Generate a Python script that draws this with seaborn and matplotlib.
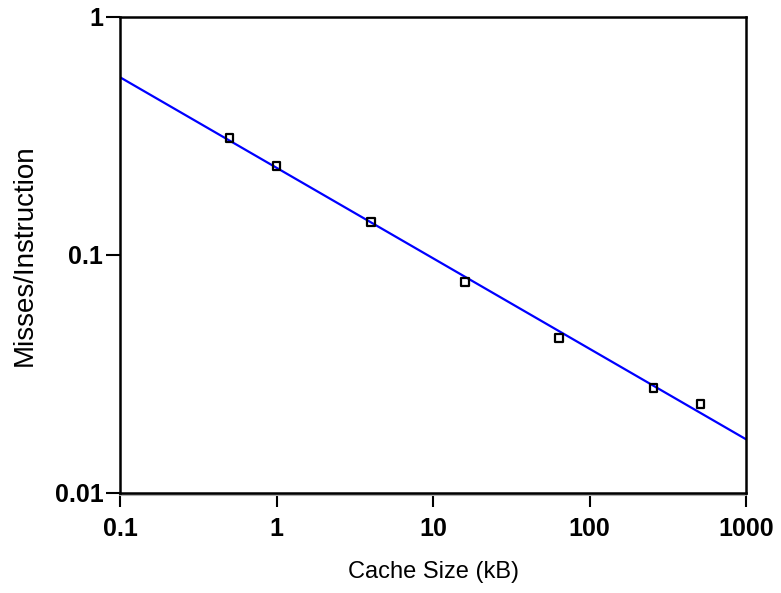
import numpy as np
import pandas as pd
import matplotlib
matplotlib.use("Agg")
import matplotlib.pyplot as plt
import seaborn as sns

# Measured miss rates for each cache size
cache_kb = [0.5, 1, 4, 16, 64, 256, 512]
misses_per_instr = [0.311, 0.237, 0.138, 0.077, 0.0448, 0.0276, 0.0237]

x_ticks = [0.1, 1, 10, 100, 1000]
x_tick_labels = ["0.1", "1", "10", "100", "1000"]
y_ticks = [0.01, 0.1, 1]
y_tick_labels = ["0.01", "0.1", "1"]

sns.set_theme(style="ticks")
plt.rcParams["font.family"] = ["Liberation Sans", "DejaVu Sans"]

points = pd.DataFrame({"size": cache_kb, "rate": misses_per_instr})

# Power-law fit (straight line in log-log space)
slope, intercept = np.polyfit(np.log10(cache_kb), np.log10(misses_per_instr), 1)
fit_x = np.logspace(-1, 3, 400)
fit = pd.DataFrame({"size": fit_x, "rate": 10 ** (intercept + slope * np.log10(fit_x))})

fig = plt.figure(figsize=(7.81, 5.93), dpi=100)
ax = fig.add_axes([120 / 781, 1 - 493 / 593, 626 / 781, 476 / 593])

sns.lineplot(data=fit, x="size", y="rate", ax=ax, color="#0000ff", linewidth=1.6, zorder=2)
sns.scatterplot(data=points, x="size", y="rate", ax=ax, marker="s", s=30,
                facecolor="none", edgecolor="black", linewidth=1.6, zorder=3)

ax.set_xscale("log")
ax.set_yscale("log")
ax.set_xlim(0.1, 1000)
ax.set_ylim(0.01, 1)
ax.set_xticks(x_ticks)
ax.set_xticklabels(x_tick_labels)
ax.set_yticks(y_ticks)
ax.set_yticklabels(y_tick_labels)
ax.minorticks_off()

ax.tick_params(axis="both", which="major", direction="out", length=10, width=1.5,
               color="black", labelsize=18)
ax.tick_params(axis="x", pad=7)
ax.tick_params(axis="y", pad=2)
for lab in ax.get_xticklabels() + ax.get_yticklabels():
    lab.set_fontweight("bold")
    lab.set_color("black")

for side in ["left", "right", "top", "bottom"]:
    ax.spines[side].set_visible(True)
    ax.spines[side].set_color("black")
    ax.spines[side].set_linewidth(1.8)

# light shadow beneath the bottom frame line
ax.plot([0, 1], [-0.005, -0.005], transform=ax.transAxes, color="#b0b0b0",
        linewidth=1.5, clip_on=False, zorder=1)

ax.set_xlabel("Cache Size (kB)", fontsize=17, color="black", labelpad=15)
ax.set_ylabel("Misses/Instruction", fontsize=20, color="black", labelpad=12)

fig.savefig("out.png", dpi=100, facecolor="white")
